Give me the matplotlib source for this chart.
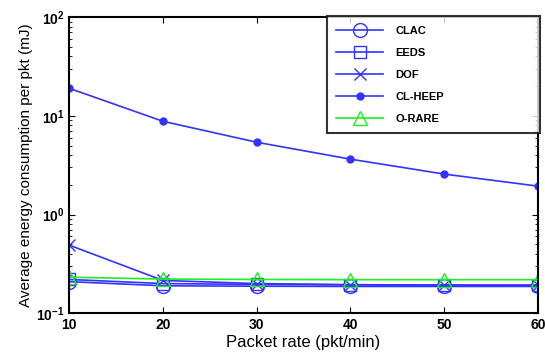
import matplotlib
matplotlib.use('Agg')
import matplotlib.pyplot as plt
from matplotlib.ticker import LogLocator, NullFormatter

plt.rcParams['font.family'] = ['Liberation Sans', 'DejaVu Sans']

# packet rate (pkt/min)
rate = [10, 20, 30, 40, 50, 60]

# average energy per pkt (mJ)
clac = [0.209, 0.190, 0.188, 0.187, 0.187, 0.187]
eeds = [0.220, 0.200, 0.196, 0.194, 0.193, 0.193]
dof = [0.49, 0.215, 0.200, 0.195, 0.193, 0.192]
cl_heep = [19.0, 8.8, 5.4, 3.64, 2.57, 1.94]
o_rare = [0.232, 0.222, 0.220, 0.219, 0.219, 0.219]

fig = plt.figure(figsize=(5.45, 3.56), dpi=100)
ax = fig.add_axes([0.127, 0.12, 0.86, 0.832])

blue = '#3333ff'
green = '#22ee22'
ax.plot(rate, clac, color=blue, marker='o', markersize=10, fillstyle='none', lw=1.2, label='CLAC')
ax.plot(rate, eeds, color=blue, marker='s', markersize=9, fillstyle='none', lw=1.2, label='EEDS')
ax.plot(rate, dof, color=blue, marker='x', markersize=9, lw=1.2, label='DOF')
ax.plot(rate, cl_heep, color=blue, marker='o', markersize=5, lw=1.2, label='CL-HEEP')
ax.plot(rate, o_rare, color=green, marker='^', markersize=10, fillstyle='none', lw=1.2, label='O-RARE')

ax.set_yscale('log')
ax.set_ylim(0.1, 100)
ax.set_xlim(10, 60)
ax.set_xticks(rate)
ax.yaxis.set_minor_locator(LogLocator(base=10, subs=range(2, 10)))
ax.yaxis.set_minor_formatter(NullFormatter())
ax.tick_params(which='both', direction='in', top=True, right=True, labelsize=10)
ax.tick_params(which='major', length=4)
ax.tick_params(which='minor', length=2)
for lab in ax.get_xticklabels() + ax.get_yticklabels():
    lab.set_fontweight('bold')
for s in ax.spines.values():
    s.set_linewidth(1.5)

ax.set_xlabel('Packet rate (pkt/min)', fontsize=12, labelpad=2)
ax.set_ylabel('Average energy consumption per pkt (mJ)', fontsize=11, labelpad=2)

# wide MATLAB-style legend box
leg = ax.legend(loc='upper left', bbox_to_anchor=(0.55, 1.003, 0.455, 0.0), mode='expand',
                borderaxespad=0.0, fancybox=False, edgecolor='black',
                prop={'weight': 'bold', 'size': 8},
                handlelength=4.2, labelspacing=1.08, borderpad=0.85, handletextpad=1.1)
leg.get_frame().set_linewidth(1.5)

fig.savefig('out.png', dpi=100)
